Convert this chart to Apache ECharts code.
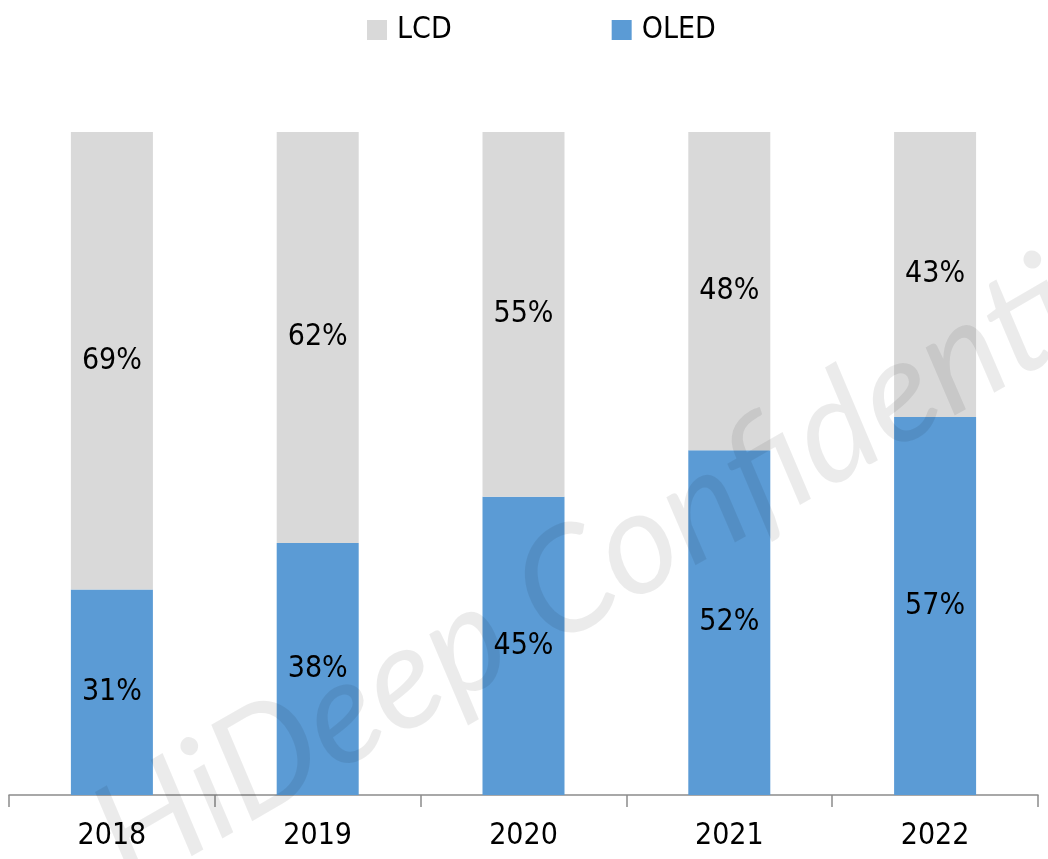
<!DOCTYPE html>
<html>
<head>
<meta charset="utf-8">
<script src="https://cdn.jsdelivr.net/npm/echarts@6/dist/echarts.min.js"></script>
<style>
  html, body { margin: 0; padding: 0; background: #fff; }
  #chart { width: 1048px; height: 859px; }
</style>
</head>
<body>
<div id="chart"></div>
<script>
const years = ['2018', '2019', '2020', '2021', '2022'];
const oled = [31, 38, 45, 52, 57];
const lcd = [69, 62, 55, 48, 43];

const font = '"DejaVu Sans Condensed", "Roboto", sans-serif';

const chart = echarts.init(document.getElementById('chart'));
const label = { show: true, position: 'inside', formatter: '{c}%', fontSize: 30, color: '#000', fontFamily: font };
const option = {
    animation: false,
    textStyle: { fontFamily: font },
    legend: {
        data: ['LCD', 'OLED'],
        top: 10,
        left: 362,
        itemWidth: 20,
        itemHeight: 20,
        itemGap: 160,
        icon: 'rect',
        textStyle: { fontSize: 30, color: '#000', fontFamily: font, padding: [0, 0, 0, 5] }
    },
    grid: { left: 9, right: 10, top: 132, bottom: 64 },
    xAxis: {
        type: 'category',
        data: years,
        axisLine: { lineStyle: { color: '#8c8c8c', width: 1.5 } },
        axisTick: { show: true, length: 12, lineStyle: { color: '#8c8c8c', width: 1.5 } },
        axisLabel: { fontSize: 30, color: '#000', margin: 26, fontFamily: font }
    },
    yAxis: {
        type: 'value',
        min: 0,
        max: 100,
        show: false,
        splitLine: { show: false }
    },
    series: [
        {
            name: 'OLED',
            type: 'bar',
            stack: 'share',
            data: oled,
            barWidth: 82,
            itemStyle: { color: '#5b9bd5' },
            label: label
        },
        {
            name: 'LCD',
            type: 'bar',
            stack: 'share',
            data: lcd,
            barWidth: 82,
            itemStyle: { color: '#d9d9d9' },
            label: label
        }
    ],
    // watermark over the chart
    graphic: [
        {
            type: 'text',
            x: 632,
            y: 548,
            rotation: Math.PI / 6,
            z: 100,
            silent: true,
            style: {
                text: 'HiDeep Confidential',
                fontSize: 145,
                fontStyle: 'italic',
                fontFamily: 'Lato, "Open Sans", sans-serif',
                fill: 'rgba(0,0,0,0.08)',
                align: 'center',
                verticalAlign: 'middle'
            }
        }
    ]
};
chart.setOption(option);
</script>
</body>
</html>
